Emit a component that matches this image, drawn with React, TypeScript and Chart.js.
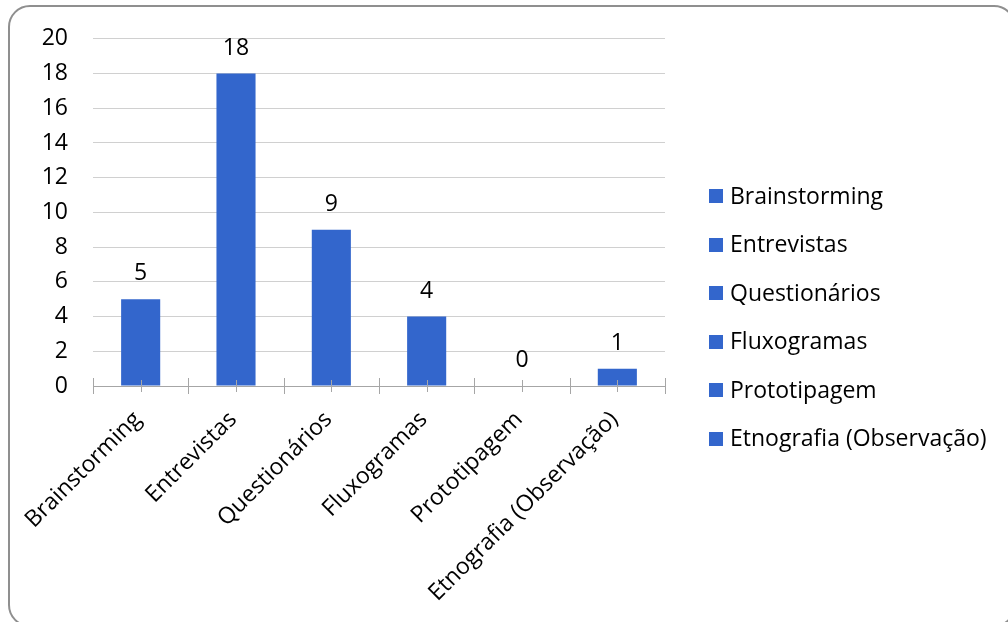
import React, { useEffect, useRef } from 'react';
import { Chart, registerables } from 'chart.js';

Chart.register(...registerables);

const categories = [
  'Brainstorming',
  'Entrevistas',
  'Questionários',
  'Fluxogramas',
  'Prototipagem',
  'Etnografia (Observação)',
];
const counts = [5, 18, 9, 4, 0, 1];
const yMin = 0;
const yMax = 20;
const yStep = 2;

const BAR_COLOR = '#3366CC';
const FONT = "'Open Sans', sans-serif";
const FONT_SIZE = 23;

const axisTicksPlugin = {
  id: 'axisTicks',
  afterDraw(chart: any) {
    const ctx = chart.ctx;
    const xs = chart.scales.x;
    const y0 = chart.scales.y.getPixelForValue(0);
    const n = chart.data.labels.length;
    ctx.save();
    ctx.strokeStyle = '#a6a6a6';
    ctx.lineWidth = 1;
    ctx.beginPath();
    ctx.moveTo(chart.chartArea.left, Math.round(y0) + 0.5);
    ctx.lineTo(chart.chartArea.right, Math.round(y0) + 0.5);
    for (let i = 0; i <= n; i++) {
      const px = Math.round(xs.getPixelForValue(i - 0.5)) + 0.5;
      ctx.moveTo(px, y0 - 8);
      ctx.lineTo(px, y0 + 8);
    }
    for (let i = 0; i < n; i++) {
      const px = Math.round(xs.getPixelForValue(i)) + 0.5;
      ctx.moveTo(px, y0 - 6);
      ctx.lineTo(px, y0 + 6);
    }
    ctx.stroke();
    ctx.restore();
  },
};

const dataLabelsPlugin = {
  id: 'dataLabels',
  afterDatasetsDraw(chart: any) {
    const ctx = chart.ctx;
    const meta = chart.getDatasetMeta(0);
    const values = chart.data.datasets[0].data;
    ctx.save();
    ctx.font = `${FONT_SIZE}px ${FONT}`;
    ctx.fillStyle = '#000';
    ctx.textAlign = 'center';
    ctx.textBaseline = 'alphabetic';
    meta.data.forEach((bar: any, i: number) => {
      ctx.fillText(String(values[i]), bar.x, bar.y - 19);
    });
    ctx.restore();
  },
};

const sideLegendPlugin = {
  id: 'sideLegend',
  afterDraw(chart: any) {
    const ctx = chart.ctx;
    const labels = chart.data.labels;
    const color = chart.data.datasets[0].backgroundColor;
    const boxX = 709;
    const textX = 730;
    const firstY = 196;
    const rowGap = 48.5;
    const box = 14;
    ctx.save();
    ctx.font = `${FONT_SIZE}px ${FONT}`;
    ctx.textAlign = 'left';
    ctx.textBaseline = 'middle';
    labels.forEach((label: string, i: number) => {
      const cy = firstY + i * rowGap;
      ctx.fillStyle = color;
      ctx.fillRect(boxX, Math.round(cy - box / 2), box, box);
      ctx.fillStyle = '#000';
      ctx.fillText(label, textX, cy + 1);
    });
    ctx.restore();
  },
};

export default function App() {
  const canvasRef = useRef<HTMLCanvasElement | null>(null);

  useEffect(() => {
    if (!canvasRef.current) return;
    const chart = new Chart(canvasRef.current, {
      type: 'bar',
      data: {
        labels: categories,
        datasets: [
          {
            label: 'Total',
            data: counts,
            backgroundColor: BAR_COLOR,
            borderWidth: 0,
            categoryPercentage: 1,
            barPercentage: 0.41,
          },
        ],
      },
      options: {
        responsive: false,
        animation: false,
        devicePixelRatio: 1,
        layout: { padding: { left: 0, top: 36, right: 343, bottom: 0 } },
        plugins: {
          legend: { display: false },
          tooltip: { enabled: false },
        },
        scales: {
          x: {
            grid: { display: false, drawTicks: false },
            border: { display: false },
            ticks: {
              autoSkip: false,
              minRotation: 45,
              maxRotation: 45,
              padding: 20,
              labelOffset: -3,
              color: '#000',
              font: { family: FONT, size: FONT_SIZE },
            },
            afterFit: (scale: any) => {
              scale.height = 236;
            },
          },
          y: {
            min: yMin,
            max: yMax,
            ticks: {
              stepSize: yStep,
              padding: 25,
              color: '#000',
              font: { family: FONT, size: FONT_SIZE },
            },
            grid: {
              drawTicks: false,
              color: (c: any) => (c.tick && c.tick.value === 0 ? 'rgba(0,0,0,0)' : '#d0d0d0'),
              lineWidth: 1,
            },
            border: { display: false },
            afterFit: (scale: any) => {
              scale.width = 93;
            },
          },
        },
      },
      plugins: [axisTicksPlugin, dataLabelsPlugin, sideLegendPlugin],
    });
    return () => chart.destroy();
  }, []);

  return (
    <div
      style={{
        position: 'fixed',
        left: 0,
        top: 0,
        width: 1008,
        height: 622,
        overflow: 'hidden',
        background: '#fff',
      }}
    >
      <div
        style={{
          position: 'absolute',
          left: 8,
          top: 5,
          width: 1008,
          height: 622,
          border: '2px solid #8f8f8f',
          borderRadius: 22,
          boxSizing: 'border-box',
        }}
      />
      <canvas
        ref={canvasRef}
        width={1008}
        height={622}
        style={{ position: 'absolute', left: 0, top: 0, width: 1008, height: 622 }}
      />
    </div>
  );
}
